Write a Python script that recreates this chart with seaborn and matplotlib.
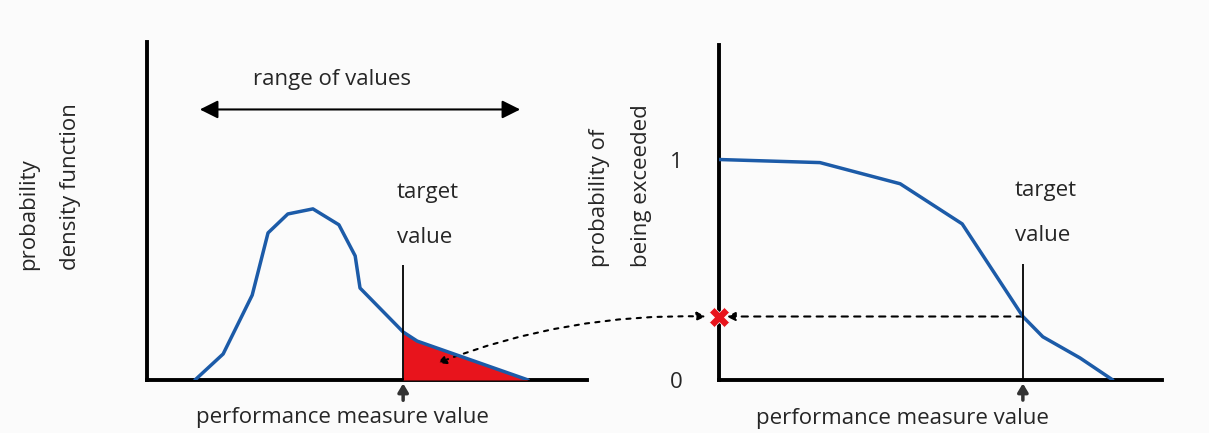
import matplotlib
matplotlib.use("Agg")
import matplotlib.pyplot as plt
import seaborn as sns
import pandas as pd

# left panel: probability density of the performance measure
pdf_x = [1.09, 1.73, 2.39, 2.75, 3.20, 3.77, 4.36, 4.73, 4.84, 5.82, 6.14, 8.66]
pdf_y = [0.0, 0.077, 0.251, 0.435, 0.491, 0.506, 0.459, 0.367, 0.272, 0.142, 0.115, 0.0]
target_left = 5.82

# right panel: exceedance probability
exc_x = [0.0, 2.28, 4.09, 5.49, 6.86, 7.31, 8.15, 8.89]
exc_y = [1.0, 0.986, 0.89, 0.708, 0.288, 0.196, 0.10, 0.0]
target_right = 6.86
p_exceed = 0.288

blue = "#1c5ba8"
red = "#e8141c"
fs = 16

sns.set_style("white")
plt.rcParams["font.family"] = ["Open Sans", "DejaVu Sans"]

fig = plt.figure(figsize=(12.09, 4.33), dpi=100)
fig.patch.set_facecolor("#fbfbfb")
ax1 = fig.add_axes([0.1216, 0.1224, 0.364, 0.781])
ax2 = fig.add_axes([0.5947, 0.1224, 0.3664, 0.774])

for ax in (ax1, ax2):
    ax.set_facecolor("none")
    sns.despine(ax=ax)
    for s in ("left", "bottom"):
        ax.spines[s].set_linewidth(2.8)
        ax.spines[s].set_color("black")
    ax.set_xlim(0, 10)

# ---- left panel
df1 = pd.DataFrame({"x": pdf_x, "y": pdf_y})
sns.lineplot(data=df1, x="x", y="y", ax=ax1, color=blue, lw=2.5, sort=False, zorder=4)
tail = df1[df1["x"] >= target_left]
ax1.fill_between(tail["x"], 0, tail["y"], color=red, lw=0, zorder=3)
ax1.set_ylim(0, 1)
ax1.set_xticks([])
ax1.set_yticks([])
ax1.set_xlabel("")
ax1.set_ylabel("")
ax1.vlines(target_left, 0, 0.34, color="black", lw=1.3, zorder=5)

ax1.annotate("", xy=(0.12, 0.80), xytext=(0.848, 0.80), xycoords="axes fraction",
             arrowprops=dict(arrowstyle="<|-|>,head_width=0.55,head_length=1.1",
                             color="black", lw=1.5, shrinkA=0, shrinkB=0))
ax1.text(0.42, 0.888, "range of values", transform=ax1.transAxes,
         ha="center", va="center", fontsize=fs)
ax1.text(0.568, 0.553, "target", transform=ax1.transAxes, ha="left", va="center", fontsize=fs)
ax1.text(0.568, 0.42, "value", transform=ax1.transAxes, ha="left", va="center", fontsize=fs)
ax1.text(-0.27, 0.325, "probability", transform=ax1.transAxes, rotation=90,
         ha="center", va="bottom", fontsize=fs)
ax1.text(-0.175, 0.325, "density function", transform=ax1.transAxes, rotation=90,
         ha="center", va="bottom", fontsize=fs)
ax1.text(0.445, -0.112, "performance measure value", transform=ax1.transAxes,
         ha="center", va="center", fontsize=fs)

# ---- right panel
df2 = pd.DataFrame({"x": exc_x, "y": exc_y})
sns.lineplot(data=df2, x="x", y="y", ax=ax2, color=blue, lw=2.5, sort=False, zorder=4)
ax2.set_ylim(0, 1.52)
ax2.set_xticks([])
ax2.set_yticks([0, 1])
ax2.set_yticklabels(["0", "1"], fontsize=fs)
ax2.tick_params(axis="y", length=0, pad=26)
ax2.set_xlabel("")
ax2.set_ylabel("")
ax2.vlines(target_right, 0, 0.525, color="black", lw=1.3, zorder=5)

ax2.annotate("", xy=(0.17, p_exceed), xytext=(target_right, p_exceed),
             arrowprops=dict(arrowstyle="-|>,head_width=0.25,head_length=0.5",
                             color="black", lw=1.5, ls=(0, (3, 3)), shrinkA=0, shrinkB=0))
ax2.plot([0], [p_exceed], marker="X", color=red, ms=15, mec="white", mew=0.5,
         clip_on=False, zorder=6)
ax2.text(0.668, 0.565, "target", transform=ax2.transAxes, ha="left", va="center", fontsize=fs)
ax2.text(0.668, 0.43, "value", transform=ax2.transAxes, ha="left", va="center", fontsize=fs)
ax2.text(-0.269, 0.336, "probability of", transform=ax2.transAxes, rotation=90,
         ha="center", va="bottom", fontsize=fs)
ax2.text(-0.174, 0.336, "being exceeded", transform=ax2.transAxes, rotation=90,
         ha="center", va="bottom", fontsize=fs)
ax2.text(0.415, -0.114, "performance measure value", transform=ax2.transAxes,
         ha="center", va="center", fontsize=fs)

# small arrows under the target values
for ax, tx in ((ax1, target_left), (ax2, target_right)):
    ax.annotate("", xy=(tx, -0.01), xytext=(tx, -0.06),
                xycoords=("data", "axes fraction"), textcoords=("data", "axes fraction"),
                arrowprops=dict(arrowstyle="-|>,head_width=0.3,head_length=0.5",
                                color="#333333", lw=2.5, shrinkA=0, shrinkB=0),
                annotation_clip=False)

# curved dashed arrow linking the red tail area to the exceedance probability
ax1.annotate("", xy=(6.6, 0.05), xycoords=ax1.transData,
             xytext=(-0.3, p_exceed), textcoords=ax2.transData,
             arrowprops=dict(arrowstyle="<|-|>,head_width=0.25,head_length=0.5",
                             color="black", lw=1.5, ls=(0, (2, 3)),
                             connectionstyle="arc3,rad=0.1", shrinkA=0, shrinkB=0),
             annotation_clip=False)

fig.savefig("out.png", dpi=100, facecolor=fig.get_facecolor())
